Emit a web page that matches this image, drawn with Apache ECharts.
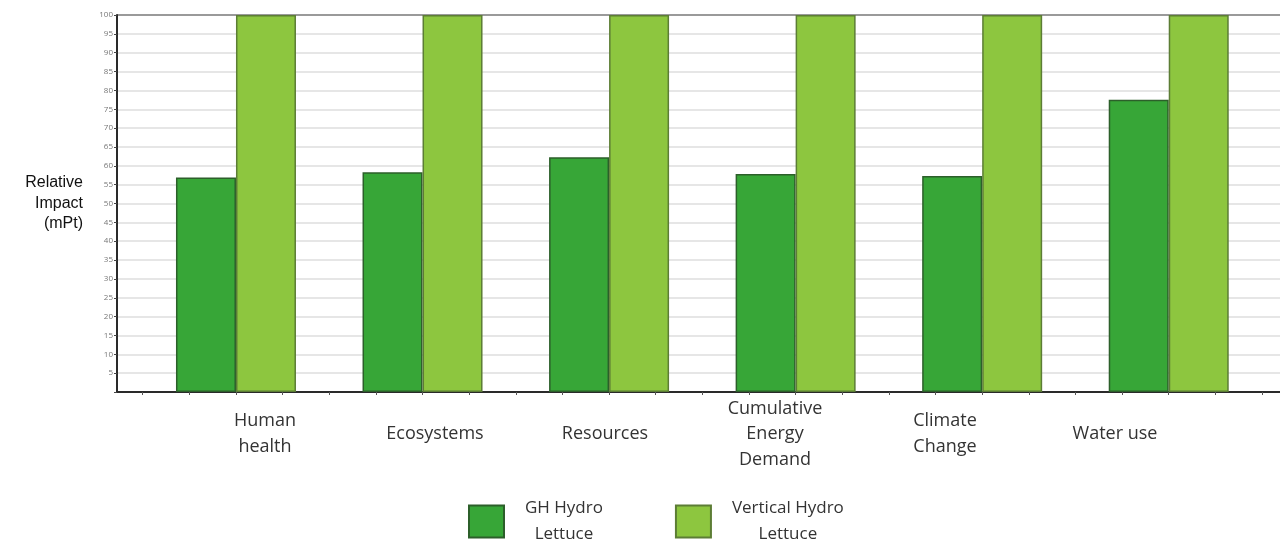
<!DOCTYPE html>
<html>
<head>
<meta charset="utf-8">
<script src="https://cdn.jsdelivr.net/npm/echarts@6/dist/echarts.min.js"></script>
<style>
html,body{margin:0;padding:0;background:#fff;}
#chart{width:1280px;height:544px;}
</style>
</head>
<body>
<div id="chart"></div>
<script>
// ---- data ----
const categories = ['Human\nhealth', 'Ecosystems', 'Resources', 'Cumulative\nEnergy\nDemand', 'Climate\nChange', 'Water use'];
const seriesNames = ['GH Hydro Lettuce', 'Vertical Hydro Lettuce'];
const ghHydro = [56.9, 58.3, 62.3, 57.8, 57.3, 77.5];
const verticalHydro = [100, 100, 100, 100, 100, 100];
const yTicks = [5, 10, 15, 20, 25, 30, 35, 40, 45, 50, 55, 60, 65, 70, 75, 80, 85, 90, 95, 100];
const yAxisTitle = 'Relative\nImpact\n(mPt)';

const splitColors = [];
for (let i = 0; i <= 20; i++) splitColors.push(i === 20 ? '#9a9a9a' : '#e6e6e6');

const chart = echarts.init(document.getElementById('chart'));
const font = '"Open Sans", "Noto Sans", sans-serif';

chart.setOption({
  backgroundColor: '#fff',
  animation: false,
  grid: [
    { left: 117, right: 0, top: 15, bottom: 152 },
    { left: 142.7, right: 18, top: 15, bottom: 152 },
    { left: 180, right: 80, top: 15, bottom: 152 }
  ],
  xAxis: [
    { type: 'category', gridIndex: 0, data: [''],
      axisLine: { show: true, lineStyle: { color: '#2a2a2a', width: 2 } },
      axisTick: { show: false }, axisLabel: { show: false }, splitLine: { show: false } },
    { type: 'category', gridIndex: 1, data: categories,
      axisLine: { show: false }, axisTick: { show: false }, axisLabel: { show: false } },
    { type: 'value', gridIndex: 1, min: 0, max: 24, interval: 1, position: 'bottom',
      axisLine: { show: false }, axisLabel: { show: false }, splitLine: { show: false },
      axisTick: { show: true, length: 3, lineStyle: { color: '#555', width: 1 } } },
    { type: 'category', gridIndex: 2, data: categories,
      axisLine: { show: false }, axisTick: { show: false },
      axisLabel: { show: true, interval: 0, margin: 42, verticalAlign: 'middle',
        fontFamily: font, fontSize: 18, lineHeight: 25.5, color: '#333' } }
  ],
  yAxis: [
    { type: 'value', gridIndex: 0, min: 0, max: 100, interval: 5,
      name: yAxisTitle, nameLocation: 'middle', nameRotate: 0, nameGap: 34,
      nameTextStyle: { fontFamily: '"Liberation Sans", Arial, sans-serif', fontSize: 16, lineHeight: 20.5, color: '#111', align: 'right' },
      axisLine: { show: true, lineStyle: { color: '#2a2a2a', width: 2 } },
      axisTick: { show: true, length: 3, lineStyle: { color: '#444' } },
      axisLabel: { fontSize: 8, color: '#777', fontFamily: font, margin: 4,
        formatter: v => (yTicks.indexOf(v) >= 0 ? String(v) : '') },
      splitLine: { show: true, lineStyle: { color: splitColors, width: 2 } } },
    { type: 'value', gridIndex: 1, min: 0, max: 100, show: false },
    { type: 'value', gridIndex: 2, min: 0, max: 100, show: false }
  ],
  legend: {
    left: 463, top: 495,
    itemWidth: 35, itemHeight: 32, itemGap: 72,
    icon: 'rect',
    data: seriesNames,
    formatter: name => {
      const i = name.lastIndexOf(' ');
      return '{a|' + name.slice(0, i) + '}\n{a|' + name.slice(i + 1) + '}';
    },
    textStyle: {
      padding: [0, 0, 0, 16],
      rich: { a: { fontFamily: font, fontSize: 17, lineHeight: 26, color: '#333', align: 'center' } }
    }
  },
  series: [
    { name: seriesNames[0], type: 'bar', xAxisIndex: 1, yAxisIndex: 1, data: ghHydro,
      barWidth: 60, barGap: '0%',
      itemStyle: { color: '#37a637', borderColor: '#2c5f2a', borderWidth: 1.5 } },
    { name: seriesNames[1], type: 'bar', xAxisIndex: 1, yAxisIndex: 1, data: verticalHydro,
      barWidth: 60, barGap: '0%',
      itemStyle: { color: '#8dc63f', borderColor: '#5c7d35', borderWidth: 1.5 } }
  ]
});
</script>
</body>
</html>
